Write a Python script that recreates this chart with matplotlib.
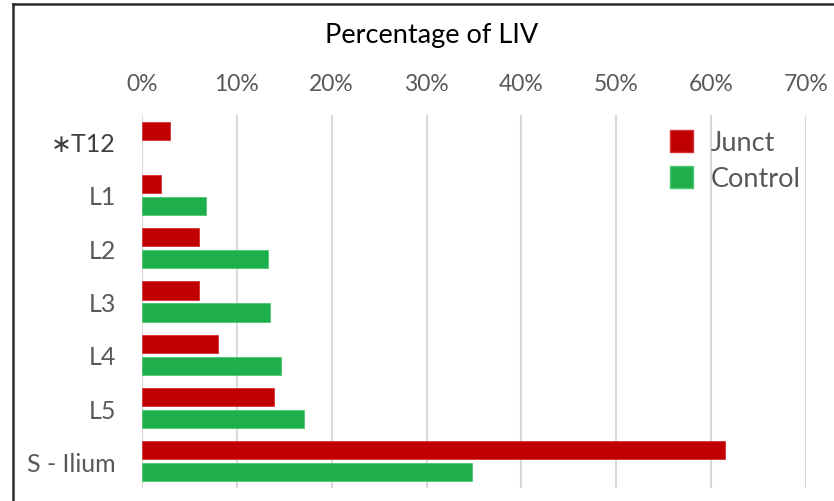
import matplotlib
matplotlib.use("Agg")
import matplotlib.pyplot as plt
from matplotlib.patches import Patch
from matplotlib.lines import Line2D
import numpy as np

categories = ["\u2217T12", "L1", "L2", "L3", "L4", "L5", "S - Ilium"]
junct = [3.0, 2.0, 6.0, 6.0, 8.0, 13.9, 61.4]
control = [0.0, 6.8, 13.3, 13.5, 14.7, 17.1, 34.8]
xticks = [0, 10, 20, 30, 40, 50, 60, 70]
xticklabels = ["0%", "10%", "20%", "30%", "40%", "50%", "60%", "70%"]

RED = "#C00000"
GREEN = "#1EAF4C"
GRAY = "#595959"
FONT = ["Lato", "DejaVu Sans"]

plt.rcParams['font.family'] = FONT

W, H = 834, 502
fig = plt.figure(figsize=(W / 100, H / 100), dpi=100)
ax = fig.add_axes([141.7 / W, 1 - 489 / H, (806.3 - 141.7) / W, (489 - 116) / H])

y = np.arange(len(categories))
bh = 0.34
off = 0.207
ax.barh(y - off, junct, height=bh, color=RED, edgecolor="#D83030", linewidth=0.6, zorder=3, label="Junct")
ctrl_y = [yy + off for yy, v in zip(y, control) if v > 0]
ctrl_v = [v for v in control if v > 0]
ax.barh(ctrl_y, ctrl_v, height=bh, color=GREEN, edgecolor="#4CC870", linewidth=0.6, zorder=3, label="Control")

ax.set_xlim(0, 70)
ax.set_ylim(len(categories) - 0.5, -0.5)
ax.set_xticks(xticks)
ax.set_xticklabels(xticklabels)
ax.set_yticks(y)
ax.set_yticklabels(categories)
ax.xaxis.tick_top()
ax.tick_params(axis="x", length=0, pad=15, labelsize=16.5, labelcolor=GRAY)
ax.tick_params(axis="y", length=0, pad=18.5, labelsize=18, labelcolor=GRAY)
for lab in ax.get_yticklabels():
    if lab.get_text().startswith("\u2217"):
        lab.set_color("#404040")
ax.grid(axis="x", color="#D9D9D9", linewidth=1.5, zorder=0)
for s in ax.spines.values():
    s.set_visible(False)

fig.text(432 / W, 1 - 36 / H, "Percentage of LIV", ha="center", va="center",
         fontsize=19.5, color="#000000")

handles = [Patch(facecolor=RED, edgecolor="#D83030"), Patch(facecolor=GREEN, edgecolor="#4CC870")]
leg = fig.legend(handles, ["Junct", "Control"], loc="upper left",
                 bbox_to_anchor=(670 / W, 1 - 131 / H), frameon=False,
                 fontsize=19.5, handlelength=0.85, handleheight=0.85,
                 handletextpad=0.65, labelspacing=0.4, borderpad=0,
                 borderaxespad=0)
for t in leg.get_texts():
    t.set_color(GRAY)

# frame lines (top and left)
fig.add_artist(Line2D([13 / W, 1.0], [1 - 4.5 / H, 1 - 4.5 / H], color="#2b2b2b", linewidth=1.8))
fig.add_artist(Line2D([13 / W, 13 / W], [0, 1 - 4.5 / H], color="#2b2b2b", linewidth=1.8))

fig.savefig("out.png", dpi=100, facecolor="white")
